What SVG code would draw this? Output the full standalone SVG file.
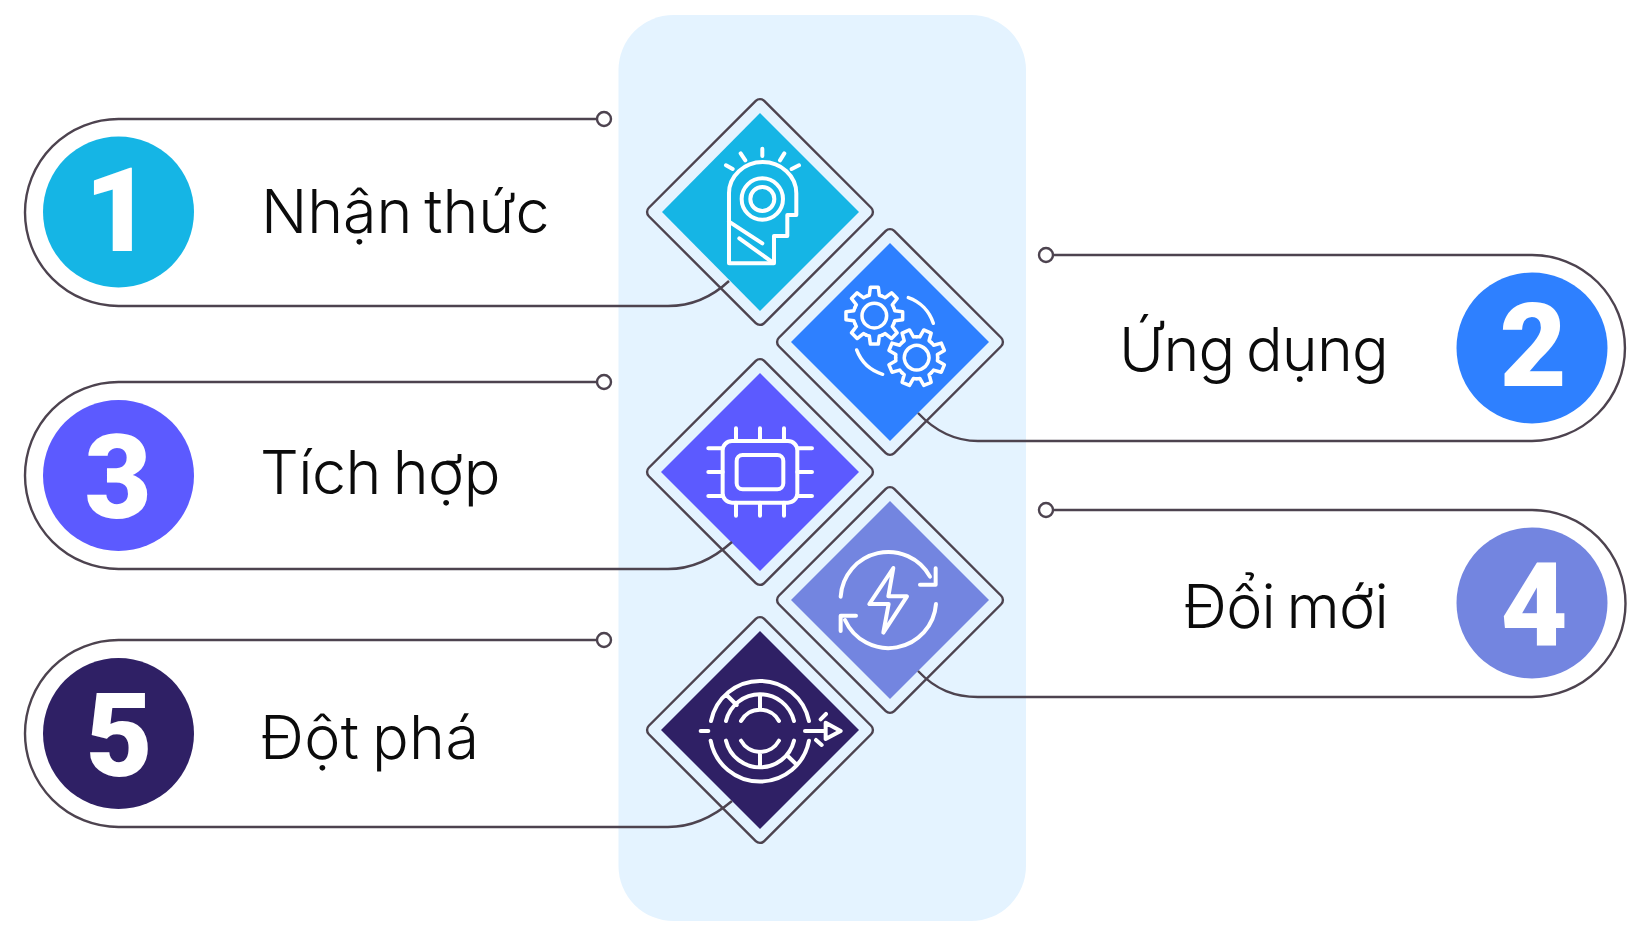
<svg xmlns="http://www.w3.org/2000/svg" width="1650" height="948" viewBox="0 0 1650 948">
<style>
.line{fill:none;stroke:#4d434f;stroke-width:2.4}
.dot{fill:#fff;stroke:#4d434f;stroke-width:2.4}
.frame{fill:none;stroke:#4d434f;stroke-width:2.4}
.ico{fill:none;stroke:#fff;stroke-width:12;stroke-linecap:round;stroke-linejoin:round}
.label{font-family:Inter,"Liberation Sans",sans-serif;font-size:61px;font-weight:300;letter-spacing:-.5px;word-spacing:-5px;fill:#0b0b0b}
.num{font-family:Roboto,"Liberation Sans",sans-serif;font-size:116px;font-weight:900;fill:#fff;text-anchor:middle}
</style>
<defs>
<path id="tooth" d="M-24.1-58.2A63 63 0 0 1-15-61.2L-12-85H12L15-61.2A63 63 0 0 1 24.1-58.2"/>
<g id="gear"><use href="#tooth"/><use href="#tooth" transform="rotate(45)"/><use href="#tooth" transform="rotate(90)"/><use href="#tooth" transform="rotate(135)"/><use href="#tooth" transform="rotate(180)"/><use href="#tooth" transform="rotate(225)"/><use href="#tooth" transform="rotate(270)"/><use href="#tooth" transform="rotate(315)"/><circle r="37"/></g>
</defs>
<rect id="backdrop" x="618.500" y="15" width="407.500" height="906" rx="55" fill="#e4f3ff"/>

<g id="node1">
<polygon points="760,113 859,212 760,311 662,212" fill="#15b5e5"/>
<rect class="frame" x="678.4" y="130.4" width="163.2" height="163.2" rx="6" transform="rotate(45 760 212)"/>
<circle cx="118.500" cy="212" r="75.500" fill="#15b5e5"/>
<text class="num" x="118" y="251">1</text>
<text class="label" x="261" y="233" style="letter-spacing:-.1px">Nhận thức</text>
<g class="ico" transform="translate(630 80) scale(.3333)">
<path d="M297 550V340A100 93 0 0 1 499 340V405H472V468H432V550Z"/>
<circle cx="397" cy="357" r="62"/><circle cx="397" cy="357" r="36"/>
<path d="M297 425L397 490M328 475L425 545M288 256L308 267M332 220L346 241M397 206V228M463 220L450 241M507 256L485 267"/>
</g>
</g>

<g id="node2">
<polygon points="890,243 989,342 890,441 791,342" fill="#2e80ff"/>
<rect class="frame" x="808.4" y="260.400" width="163.2" height="163.2" rx="6" transform="rotate(45 890 342)"/>
<circle cx="1532" cy="348" r="75.500" fill="#2e80ff"/>
<text class="num" x="1533" y="386">2</text>
<text class="label" x="1388" y="371" text-anchor="end" style="letter-spacing:-.8px">Ứng dụng</text>
<g class="ico" style="stroke-width:10.500" transform="translate(770 220) scale(.3333)">
<use href="#gear" transform="translate(313 287)"/>
<use href="#gear" transform="translate(440 413) rotate(22.500)"/>
<path d="M415 233A121 121 0 0 1 490 310M260 390A121 121 0 0 0 338 463"/>
</g>
</g>

<g id="node3">
<polygon points="760,373 859,472 760,571 661,472" fill="#5c5aff"/>
<rect class="frame" x="678.4" y="390.400" width="163.2" height="163.2" rx="6" transform="rotate(45 760 472)"/>
<circle cx="118.500" cy="475.500" r="75.500" fill="#5c5aff"/>
<text class="num" x="118" y="518">3</text>
<text class="label" x="260" y="494">Tích hợp</text>
<g class="ico" transform="translate(640 350) scale(.3333)">
<rect x="248" y="273" width="224" height="185" rx="28"/>
<rect x="290" y="315" width="140" height="103" rx="18"/>
<path d="M288 235V273M360 235V273M432 235V273M288 458V497M360 458V497M432 458V497M205 295H248M205 366H248M205 438H248M472 295H516M472 366H516M472 438H516"/>
</g>
</g>

<g id="node4">
<polygon points="890,501 989,600 890,699 791,600" fill="#7385e0"/>
<rect class="frame" x="808.4" y="518.400" width="163.2" height="163.2" rx="6" transform="rotate(45 890 600)"/>
<circle cx="1532" cy="603" r="75.500" fill="#7385e0"/>
<text class="num" x="1534" y="646">4</text>
<text class="label" x="1388" y="628" text-anchor="end" style="letter-spacing:-.7px">Đổi mới</text>
<g class="ico" transform="translate(770 480) scale(.3333)">
<path d="M212 350A143 143 0 0 1 480 290M498 372A143 143 0 0 1 225 420M497 265V314H450M212 453V407H258M370 264L298 372H356L340 458L411 349H355Z"/>
</g>
</g>

<g id="node5">
<polygon points="760,631 859,730 760,829 661,730" fill="#2f2065"/>
<rect class="frame" x="678.4" y="648.400" width="163.2" height="163.2" rx="6" transform="rotate(45 760 730)"/>
<circle cx="118.500" cy="733.500" r="75.500" fill="#2f2065"/>
<text class="num" x="119" y="776">5</text>
<text class="label" x="260" y="759" style="letter-spacing:.4px">Đột phá</text>
<g class="ico" transform="translate(640 610) scale(.3333)">
<path d="M213 333A150 150 0 0 1 507 333M212 392A150 150 0 0 0 507 392M258 333A105 105 0 0 1 462 333M258 392A105 105 0 0 0 462 392M303 333A65 65 0 0 1 417 333M303 392A65 65 0 0 0 417 392M360 255V297M360 425V465M260 255L290 285M440 435L468 462M182 363H205M495 363H555M557 338L602 363L557 387ZM542 328L558 312M528 390L545 405"/>
</g>
</g>

<g id="connectors">
<path class="line" d="M597 119H118.500A93.500 93.500 0 0 0 118.500 306H668C693 306 713 296 729 281"/>
<circle class="dot" cx="604" cy="119" r="7"/>
<path class="line" d="M1053 255H1532A93 93 0 0 1 1532 441H978C955 441 936 432 918 413"/>
<circle class="dot" cx="1046" cy="255" r="7"/>
<path class="line" d="M597 382H118.500A93.500 93.500 0 0 0 118.500 569H668C693 569 713 559 732 542"/>
<circle class="dot" cx="604" cy="382" r="7"/>
<path class="line" d="M1053 510H1532A93.500 93.500 0 0 1 1532 697H978C955 697 936 690 918 671"/>
<circle class="dot" cx="1046" cy="510" r="7"/>
<path class="line" d="M597 640H118.500A93.500 93.500 0 0 0 118.500 827H668C693 827 713 817 732 801"/>
<circle class="dot" cx="604" cy="640" r="7"/>
</g>
</svg>
